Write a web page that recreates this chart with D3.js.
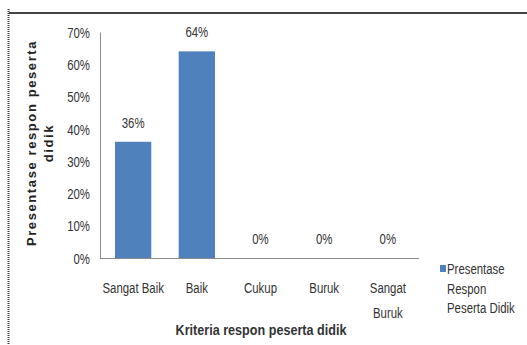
<!DOCTYPE html>
<html>
<head>
<meta charset="utf-8">
<script src="https://cdn.jsdelivr.net/npm/d3@7"></script>
<style>
  html, body { margin: 0; padding: 0; background: #fff; }
  svg { display: block; }
  .lbl { font-family: "Liberation Sans", Arial, sans-serif; font-size: 15px; fill: #333; }
</style>
</head>
<body>
<svg id="chart" width="527" height="345"></svg>
<script>
// Response criteria and the share of students in each
const categories = ["Sangat Baik", "Baik", "Cukup", "Buruk", "Sangat Buruk"];
const categoryLines = [["Sangat Baik"], ["Baik"], ["Cukup"], ["Buruk"], ["Sangat", "Buruk"]];
const values = [36, 64, 0, 0, 0];
const yTicks = [0, 10, 20, 30, 40, 50, 60, 70];
const seriesName = ["Presentase", "Respon", "Peserta Didik"];
const xTitle = "Kriteria  respon peserta didik";
const yTitle = ["Presentase respon peserta", "didik"];

const svg = d3.select("#chart");
const barColor = "#4f81bd";
const axisColor = "#8c8c8c";
const squeeze = 0.76; // condensed look for the label face

// Place a text at (px, py) with its glyphs narrowed horizontally
function placeNarrow(sel, px, py, k = squeeze) {
  sel.attr("x", 0).attr("y", 0)
    .attr("transform", function (d, i) {
      const X = typeof px === "function" ? px(d, i) : px;
      const Y = typeof py === "function" ? py(d, i) : py;
      return `translate(${X},${Y}) scale(${k},1)`;
    });
  return sel;
}

// Frame: heavy top rule and dotted left edge
svg.append("line").attr("x1", 9).attr("x2", 527).attr("y1", 13).attr("y2", 13)
  .attr("stroke", "#444").attr("stroke-width", 2);
svg.append("line").attr("x1", 8.5).attr("x2", 8.5).attr("y1", 9).attr("y2", 345)
  .attr("stroke", "#333").attr("stroke-width", 2).attr("stroke-dasharray", "1,1");

const plot = { left: 100, right: 419, top: 32, bottom: 258 };

const x = d3.scaleBand().domain(categories)
  .range([plot.left + 1, plot.right + 1]).paddingInner(0.43).paddingOuter(0.22);
const y = d3.scaleLinear().domain([0, 70]).range([plot.bottom, plot.top]);
const cx = d => x(d) + x.bandwidth() / 2;

// Bars
svg.append("g").selectAll("rect").data(values).join("rect")
  .attr("x", (d, i) => x(categories[i]))
  .attr("y", d => y(d))
  .attr("width", x.bandwidth())
  .attr("height", d => plot.bottom - y(d))
  .attr("fill", barColor);

// Y axis
const yAxis = svg.append("g").attr("transform", `translate(${plot.left},0)`)
  .call(d3.axisLeft(y).tickValues(yTicks).tickSize(0).tickPadding(10).tickFormat(d => d + "%"));
yAxis.select(".domain").attr("stroke", axisColor);
yAxis.selectAll(".tick text")
  .attr("class", "lbl").attr("font-family", null).attr("font-size", null)
  .attr("dy", "0.35em")
  .call(placeNarrow, -10, 0);

// X axis
const xAxis = svg.append("g").attr("transform", `translate(0,${plot.bottom})`)
  .call(d3.axisBottom(x).tickSize(0).tickFormat(""));
xAxis.select(".domain").attr("stroke", axisColor).attr("d", `M${plot.left},0.5H${plot.right}`);

// Category labels (one text per line)
const catRows = categories.flatMap((c, i) => categoryLines[i].map((t, j) => ({ c, t, j })));
svg.append("g").selectAll("text").data(catRows).join("text")
  .attr("class", "lbl").attr("text-anchor", "middle")
  .text(d => d.t)
  .call(placeNarrow, d => cx(d.c), d => 293 + d.j * 25);

// Value labels above each bar
svg.append("g").selectAll("text").data(values).join("text")
  .attr("class", "lbl").attr("text-anchor", "middle")
  .text(d => d + "%")
  .call(placeNarrow, (d, i) => cx(categories[i]), d => y(d) - 14);

// Axis titles
svg.append("text").attr("class", "lbl").attr("text-anchor", "middle")
  .attr("font-weight", "bold").attr("fill", "#222").text(xTitle)
  .call(placeNarrow, 261, 335, 0.84);

svg.append("g").selectAll("text").data(yTitle).join("text")
  .attr("text-anchor", "middle")
  .attr("transform", (d, i) => `translate(${[36, 53][i]},143) rotate(-90)`)
  .attr("font-family", "Liberation Sans, Arial, sans-serif")
  .attr("font-size", 13).attr("font-weight", "bold").attr("letter-spacing", 1.6)
  .attr("fill", "#222")
  .text(d => d);

// Legend
const legend = svg.append("g");
legend.append("rect").attr("x", 440).attr("y", 265).attr("width", 6).attr("height", 7).attr("fill", barColor);
legend.selectAll("text").data(seriesName).join("text")
  .attr("class", "lbl")
  .text(d => d)
  .call(placeNarrow, 447, (d, i) => 274 + i * 19.5);
</script>
</body>
</html>
